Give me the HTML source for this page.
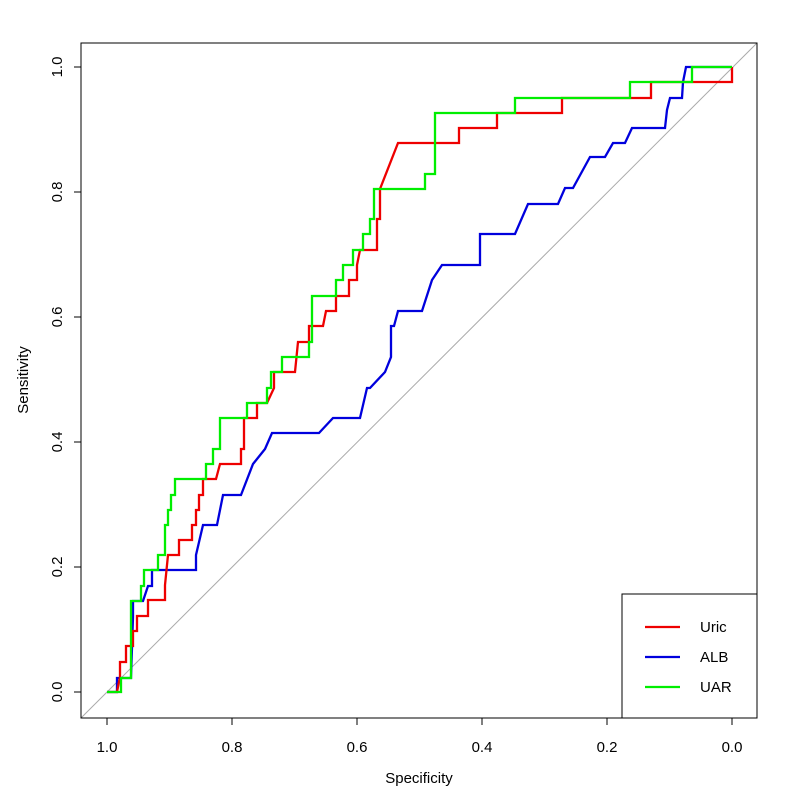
<!DOCTYPE html>
<html><head><style>body{margin:0;background:#fff}svg{display:block}text{font-family:"Liberation Sans",sans-serif;font-size:15px;fill:#000}</style></head>
<body>
<svg width="800" height="800" viewBox="0 0 800 800">
<line x1="81" y1="718" x2="757" y2="43" stroke="#aaa" stroke-width="1"/>
<g fill="none" stroke-width="2.3" stroke-linejoin="miter">
<polyline stroke="#0000dd" points="107,692 117,692 117,678 131,678 133,617 133,601 143,601 148,586 152,586 152,570 196,570 196,555 203,525 217,525 223,495 241,495 253,464 265,449 272,433 319,433 333,418 360,418 367,388 370,388 385,372 391,357 391,326 394,326 398,311 422,311 432,280 442,265 480,265 480,234 515,234 528,204 558,204 565,188 573,188 590,157 605,157 613,143 625,143 632,128 665,128 667,110 670,98 682,98 683,82 686,67 732,67"/>
<polyline stroke="#ee0000" points="107,692 117,692 120,677 120,662 126,662 126,646 133,646 133,631 137,631 137,616 148,616 148,600 165,600 165,585 168,555 179,555 179,540 192,540 192,525 196,525 196,510 199,510 199,495 203,495 203,479 216,479 220,464 241,464 241,449 244,449 244,418 257,418 257,403 267,403 274,388 274,372 295,372 298,342 309,342 309,326 323,326 326,311 336,311 336,296 349,296 349,280 357,280 357,265 360,250 377,250 377,219 380,219 380,189 398,143 459,143 459,128 497,128 497,113 562,113 562,98 651,98 651,82 732,82 732,67"/>
<polyline stroke="#00ee00" points="107,692 121,692 121,678 127,678 131,678 131,601 141,601 141,586 144,586 144,570 158,570 158,555 165,555 165,525 168,525 168,510 171,510 171,495 175,495 175,479 206,479 206,464 213,464 213,449 220,449 220,418 247,418 247,403 267,403 267,388 271,388 271,372 282,372 282,357 309,357 309,342 312,342 312,296 336,296 336,280 343,280 343,265 353,265 353,250 363,250 363,234 370,234 370,219 374,219 374,189 425,189 425,174 435,174 435,113 515,113 515,98 630,98 630,82 692,82 692,67 732,67"/>
</g>
<rect x="81" y="43" width="676" height="675" fill="none" stroke="#000" stroke-width="1"/>
<g stroke="#000" stroke-width="1">
<line x1="107" y1="718" x2="732" y2="718"/>
<line x1="107" y1="718" x2="107" y2="725"/><line x1="232" y1="718" x2="232" y2="725"/><line x1="357" y1="718" x2="357" y2="725"/><line x1="482" y1="718" x2="482" y2="725"/><line x1="607" y1="718" x2="607" y2="725"/><line x1="732" y1="718" x2="732" y2="725"/>
<line x1="81" y1="67" x2="81" y2="692"/>
<line x1="74" y1="692" x2="81" y2="692"/><line x1="74" y1="567" x2="81" y2="567"/><line x1="74" y1="442" x2="81" y2="442"/><line x1="74" y1="317" x2="81" y2="317"/><line x1="74" y1="192" x2="81" y2="192"/><line x1="74" y1="67" x2="81" y2="67"/>
</g>
<g text-anchor="middle">
<text x="107" y="752">1.0</text><text x="232" y="752">0.8</text><text x="357" y="752">0.6</text><text x="482" y="752">0.4</text><text x="607" y="752">0.2</text><text x="732" y="752">0.0</text>
<text x="419" y="783">Specificity</text>
<text transform="translate(62,692) rotate(-90)">0.0</text>
<text transform="translate(62,567) rotate(-90)">0.2</text>
<text transform="translate(62,442) rotate(-90)">0.4</text>
<text transform="translate(62,317) rotate(-90)">0.6</text>
<text transform="translate(62,192) rotate(-90)">0.8</text>
<text transform="translate(62,67) rotate(-90)">1.0</text>
<text transform="translate(28,380) rotate(-90)">Sensitivity</text>
</g>
<rect x="622" y="594" width="135" height="124" fill="#fff" stroke="#000" stroke-width="1"/>
<line x1="645" y1="627" x2="680" y2="627" stroke="#ee0000" stroke-width="2.3"/>
<line x1="645" y1="657" x2="680" y2="657" stroke="#0000dd" stroke-width="2.3"/>
<line x1="645" y1="687" x2="680" y2="687" stroke="#00ee00" stroke-width="2.3"/>
<text x="700" y="632">Uric</text><text x="700" y="662">ALB</text><text x="700" y="692">UAR</text>
</svg>
</body></html>
